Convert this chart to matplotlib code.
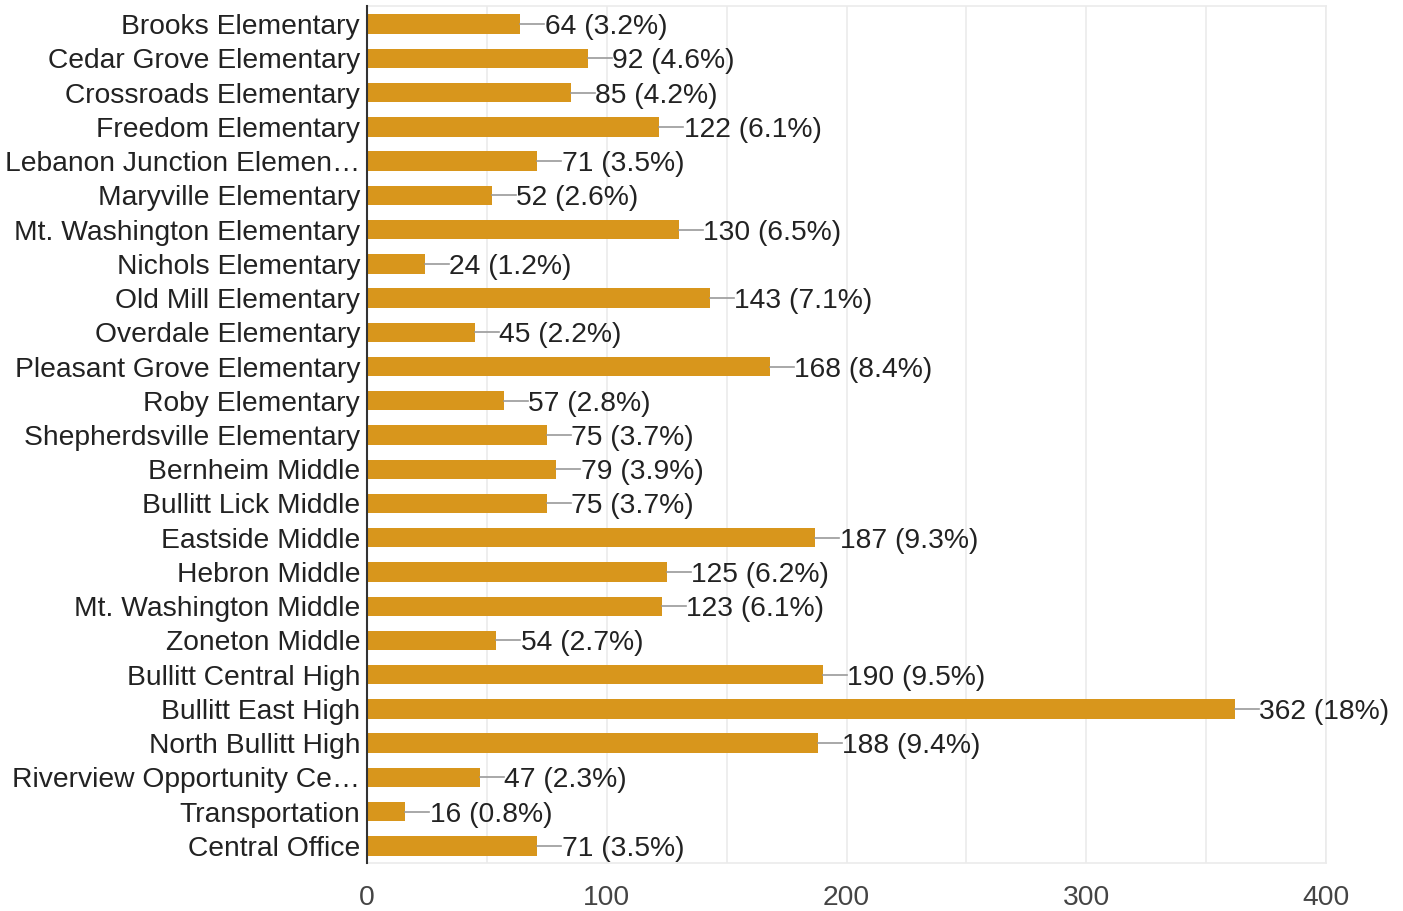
import matplotlib.pyplot as plt
import numpy as np

plt.rcParams.update({
    'font.family': ['Liberation Sans', 'DejaVu Sans'],
    'font.size': 20.3,
})

schools = [
    "Brooks Elementary", "Cedar Grove Elementary", "Crossroads Elementary",
    "Freedom Elementary", "Lebanon Junction Elemen\u2026", "Maryville Elementary",
    "Mt. Washington Elementary", "Nichols Elementary", "Old Mill Elementary",
    "Overdale Elementary", "Pleasant Grove Elementary", "Roby Elementary",
    "Shepherdsville Elementary", "Bernheim Middle", "Bullitt Lick Middle",
    "Eastside Middle", "Hebron Middle", "Mt. Washington Middle",
    "Zoneton Middle", "Bullitt Central High", "Bullitt East High",
    "North Bullitt High", "Riverview Opportunity Ce\u2026", "Transportation",
    "Central Office",
]
counts = [64, 92, 85, 122, 71, 52, 130, 24, 143, 45, 168, 57, 75, 79, 75,
          187, 125, 123, 54, 190, 362, 188, 47, 16, 71]
pcts = ["3.2%", "4.6%", "4.2%", "6.1%", "3.5%", "2.6%", "6.5%", "1.2%", "7.1%",
        "2.2%", "8.4%", "2.8%", "3.7%", "3.9%", "3.7%", "9.3%", "6.2%", "6.1%",
        "2.7%", "9.5%", "18%", "9.4%", "2.3%", "0.8%", "3.5%"]

fig = plt.figure(figsize=(14.03, 9.11), dpi=100)
ax = fig.add_axes([367 / 1403, 48 / 911, 959 / 1403, 857.5 / 911])

y = np.arange(len(schools))
ax.barh(y, counts, height=0.565, color='#D8961C', zorder=3)

# leader line + label
for yi, c, p in zip(y, counts, pcts):
    ax.plot([c, c + 10], [yi, yi], color='#9a9a9a', lw=1.2, zorder=3)
    ax.text(c + 10.2, yi, f"{c} ({p})", va='center_baseline', ha='left',
            color='#222222', fontsize=20.3)

ax.set_xlim(0, 400)
ax.set_ylim(len(schools) - 0.5, -0.545)
ax.set_yticks(y)
ax.set_yticklabels(schools, color='#222222', fontsize=20.3, va='center_baseline')
ax.set_xticks([0, 100, 200, 300, 400])
ax.set_xticks(np.arange(0, 401, 50), minor=True)
ax.tick_params(axis='x', colors='#444444', labelsize=20.3, length=0, pad=16, which='both')
ax.tick_params(axis='y', length=0, pad=5)
ax.grid(True, axis='x', which='both', color='#ebebeb', lw=1.2, zorder=0)

for s in ['top', 'right', 'bottom']:
    ax.spines[s].set_color('#ebebeb')
    ax.spines[s].set_linewidth(1.2)
ax.spines['left'].set_color('#333333')
ax.spines['left'].set_linewidth(1.5)
ax.spines['left'].set_zorder(4)

fig.savefig('out.png', dpi=100)
